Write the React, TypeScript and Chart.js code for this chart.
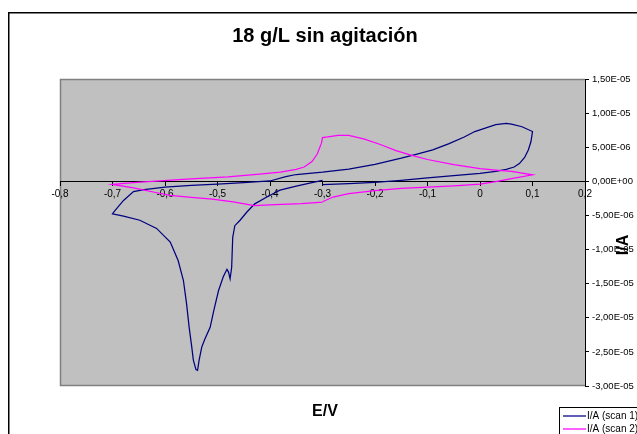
import React, { useEffect, useRef } from "react";
import { Chart, registerables } from "chart.js";

Chart.register(...registerables);

const TITLE = "18 g/L sin agitación";
const X_TITLE = "E/V";
const Y_TITLE = "I/A";
const SERIES_NAMES = ["I/A (scan 1)", "I/A (scan 2)"];
const SERIES_COLORS = ["#000080", "#FF00FF"];

const X_MIN = -0.8;
const X_MAX = 0.2;
const X_STEP = 0.1;
const Y_MIN = -3e-5;
const Y_MAX = 1.5e-5;
const Y_STEP = 5e-6;

// scan 1 (E in V, I in A)
const scan1E = [
  -0.3, -0.25, -0.2, -0.15, -0.1, -0.05, 0.0, 0.03, 0.05, 0.065, 0.075, 0.085, 0.092, 0.097, 0.1,
  0.08, 0.06, 0.05, 0.03, 0.01, -0.01, -0.03, -0.06, -0.09, -0.12, -0.15, -0.2, -0.25, -0.3, -0.35,
  -0.37, -0.4, -0.45, -0.5, -0.55, -0.6, -0.64, -0.66, -0.679, -0.695, -0.7,
  -0.679, -0.648, -0.616, -0.59, -0.575, -0.565, -0.559, -0.554, -0.549, -0.546, -0.541, -0.538,
  -0.535, -0.53, -0.524, -0.514, -0.507, -0.498, -0.489, -0.482, -0.479, -0.476, -0.473, -0.471,
  -0.467, -0.457, -0.444, -0.429, -0.406, -0.381, -0.35, -0.32, -0.3,
];
const scan1I = [
  -0.5e-6, -0.35e-6, -0.15e-6, 0.15e-6, 0.5e-6, 0.85e-6, 1.15e-6, 1.45e-6, 1.75e-6, 2.1e-6, 2.6e-6, 3.5e-6, 4.6e-6, 5.8e-6, 7.3e-6,
  8.0e-6, 8.4e-6, 8.5e-6, 8.3e-6, 7.8e-6, 7.3e-6, 6.5e-6, 5.5e-6, 4.6e-6, 4.0e-6, 3.4e-6, 2.5e-6, 1.8e-6, 1.35e-6, 1.0e-6,
  0.7e-6, 0.05e-6, -0.2e-6, -0.4e-6, -0.6e-6, -0.85e-6, -1.2e-6, -1.5e-6, -2.8e-6, -4.25e-6, -4.75e-6,
  -5.1e-6, -5.7e-6, -6.9e-6, -8.9e-6, -11.6e-6, -14.5e-6, -17.9e-6, -21.4e-6, -24.3e-6, -26.2e-6, -27.6e-6, -27.7e-6,
  -26.2e-6, -24.3e-6, -23.1e-6, -21.4e-6, -18.9e-6, -16.0e-6, -14.0e-6, -12.9e-6, -13.3e-6, -14.3e-6, -12.6e-6, -8.2e-6,
  -6.5e-6, -5.7e-6, -4.5e-6, -3.3e-6, -2.3e-6, -1.3e-6, -0.7e-6, -0.2e-6, 0.15e-6,
];

// scan 2 (E in V, I in A)
const scan2E = [
  -0.3, -0.28, -0.25, -0.2, -0.15, -0.1, -0.05, 0.0, 0.03, 0.06, 0.1,
  0.06, 0.03, 0.0, -0.05, -0.1, -0.13, -0.16, -0.19, -0.22, -0.25, -0.27, -0.29, -0.3,
  -0.302, -0.31, -0.32, -0.335, -0.35, -0.38, -0.42, -0.48, -0.55, -0.61, -0.66, -0.7,
  -0.66, -0.62, -0.59, -0.55, -0.51, -0.47, -0.43, -0.39, -0.34, -0.3,
];
const scan2I = [
  -3.0e-6, -2.3e-6, -1.8e-6, -1.35e-6, -1.05e-6, -0.85e-6, -0.65e-6, -0.4e-6, -0.05e-6, 0.4e-6, 0.95e-6,
  1.45e-6, 1.65e-6, 1.85e-6, 2.45e-6, 3.2e-6, 3.8e-6, 4.5e-6, 5.4e-6, 6.2e-6, 6.75e-6, 6.75e-6, 6.5e-6, 6.4e-6,
  5.6e-6, 4.0e-6, 2.9e-6, 2.1e-6, 1.75e-6, 1.35e-6, 1.05e-6, 0.65e-6, 0.35e-6, 0.05e-6, -0.2e-6, -0.45e-6,
  -0.95e-6, -1.6e-6, -2.05e-6, -2.35e-6, -2.6e-6, -3.0e-6, -3.55e-6, -3.4e-6, -3.25e-6, -3.05e-6,
];

const FONT = "'Liberation Sans', Arial, sans-serif";

function fmtX(v: number): string {
  if (Math.abs(v) < 1e-9) return "0";
  return v.toFixed(1).replace(".", ",");
}

function fmtY(raw: number): string {
  const v = parseFloat(raw.toPrecision(8));
  if (Math.abs(v) < 1e-15) return "0,00E+00";
  let e = Math.floor(Math.log10(Math.abs(v)));
  let m = v / Math.pow(10, e);
  if (Math.abs(parseFloat(m.toFixed(2))) >= 10) {
    e += 1;
    m = v / Math.pow(10, e);
  }
  const es = (e < 0 ? "-" : "+") + String(Math.abs(e)).padStart(2, "0");
  return m.toFixed(2).replace(".", ",") + "E" + es;
}

const decorPlugin = {
  id: "decor",
  beforeDraw(chart: any) {
    const { ctx, chartArea } = chart;
    const { left, top, right, bottom } = chartArea;
    ctx.save();
    ctx.fillStyle = "#FFFFFF";
    ctx.fillRect(0, 0, chart.width, chart.height);
    ctx.fillStyle = "#C0C0C0";
    ctx.fillRect(left, top, right - left, bottom - top);
    ctx.strokeStyle = "#808080";
    ctx.lineWidth = 1.5;
    ctx.beginPath();
    ctx.moveTo(right, top + 0.5);
    ctx.lineTo(left + 0.5, top + 0.5);
    ctx.lineTo(left + 0.5, bottom - 0.5);
    ctx.lineTo(right, bottom - 0.5);
    ctx.stroke();
    // outer chart border
    ctx.strokeStyle = "#000000";
    ctx.lineWidth = 1.5;
    ctx.strokeRect(8.75, 12.75, 800, 600);
    ctx.restore();
  },
  afterDraw(chart: any) {
    const { ctx } = chart;
    ctx.save();
    ctx.fillStyle = "#000000";
    ctx.textAlign = "center";
    ctx.textBaseline = "middle";
    ctx.font = `bold 20px ${FONT}`;
    ctx.fillText(TITLE, 325, 36);
    ctx.font = `bold 16px ${FONT}`;
    ctx.fillText(X_TITLE, 325, 412);
    ctx.save();
    ctx.translate(624, 245);
    ctx.rotate(-Math.PI / 2);
    ctx.fillText(Y_TITLE, 0, 0);
    ctx.restore();

    // legend
    const lx = 559.5;
    const ly = 407.5;
    ctx.fillStyle = "#FFFFFF";
    ctx.fillRect(lx, ly, 200, 60);
    ctx.strokeStyle = "#000000";
    ctx.lineWidth = 1;
    ctx.strokeRect(lx, ly, 200, 60);
    ctx.font = `10px ${FONT}`;
    ctx.textAlign = "left";
    SERIES_NAMES.forEach((name, i) => {
      const y = 416 + i * 13;
      ctx.strokeStyle = SERIES_COLORS[i];
      ctx.lineWidth = 1.25;
      ctx.beginPath();
      ctx.moveTo(563, y);
      ctx.lineTo(586, y);
      ctx.stroke();
      ctx.fillStyle = "#000000";
      ctx.fillText(name, 587, y);
    });
    ctx.restore();
  },
};

export default function App() {
  const ref = useRef<HTMLCanvasElement | null>(null);

  useEffect(() => {
    if (!ref.current) return;
    const toPts = (xs: number[], ys: number[]) => xs.map((x, i) => ({ x, y: ys[i] }));
    const chart = new Chart(ref.current, {
      type: "scatter",
      data: {
        datasets: [
          {
            label: SERIES_NAMES[0],
            data: toPts(scan1E, scan1I),
            showLine: true,
            borderColor: SERIES_COLORS[0],
            backgroundColor: SERIES_COLORS[0],
            borderWidth: 1.25,
            pointRadius: 0,
            tension: 0,
            order: 1,
          },
          {
            label: SERIES_NAMES[1],
            data: toPts(scan2E, scan2I),
            showLine: true,
            borderColor: SERIES_COLORS[1],
            backgroundColor: SERIES_COLORS[1],
            borderWidth: 1.25,
            pointRadius: 0,
            tension: 0,
            order: 0,
          },
        ],
      },
      options: {
        responsive: false,
        animation: false,
        devicePixelRatio: 1,
        layout: { padding: { left: 60, top: 79, right: 0, bottom: 48 } },
        plugins: {
          legend: { display: false },
          title: { display: false },
          tooltip: { enabled: false },
        },
        scales: {
          x: {
            type: "linear",
            min: X_MIN,
            max: X_MAX,
            position: { y: 0 } as any,
            ticks: {
              stepSize: X_STEP,
              callback: (v: any) => fmtX(Number(v)),
              color: "#000000",
              font: { family: FONT, size: 10 },
              padding: 3,
              maxRotation: 0,
              autoSkip: false,
            },
            grid: {
              drawOnChartArea: false,
              drawTicks: true,
              tickLength: 4,
              tickColor: "#000000",
            },
            border: { display: true, color: "#000000", width: 1 },
          },
          y: {
            type: "linear",
            position: "right",
            min: Y_MIN,
            max: Y_MAX,
            afterFit: (scale: any) => {
              scale.width = 52;
            },
            ticks: {
              stepSize: Y_STEP,
              callback: (v: any) => fmtY(Number(v)),
              color: "#000000",
              font: { family: FONT, size: 9.5 },
              padding: 3,
              autoSkip: false,
            },
            grid: {
              drawOnChartArea: false,
              drawTicks: true,
              tickLength: 4,
              tickColor: "#000000",
            },
            border: { display: true, color: "#000000", width: 1 },
          },
        },
      },
      plugins: [decorPlugin],
    });
    return () => chart.destroy();
  }, []);

  return (
    <div
      style={{
        position: "fixed",
        left: 0,
        top: 0,
        width: 637,
        height: 434,
        overflow: "hidden",
        background: "#FFFFFF",
      }}
    >
      <canvas ref={ref} width={637} height={434} style={{ display: "block", width: 637, height: 434 }} />
    </div>
  );
}
